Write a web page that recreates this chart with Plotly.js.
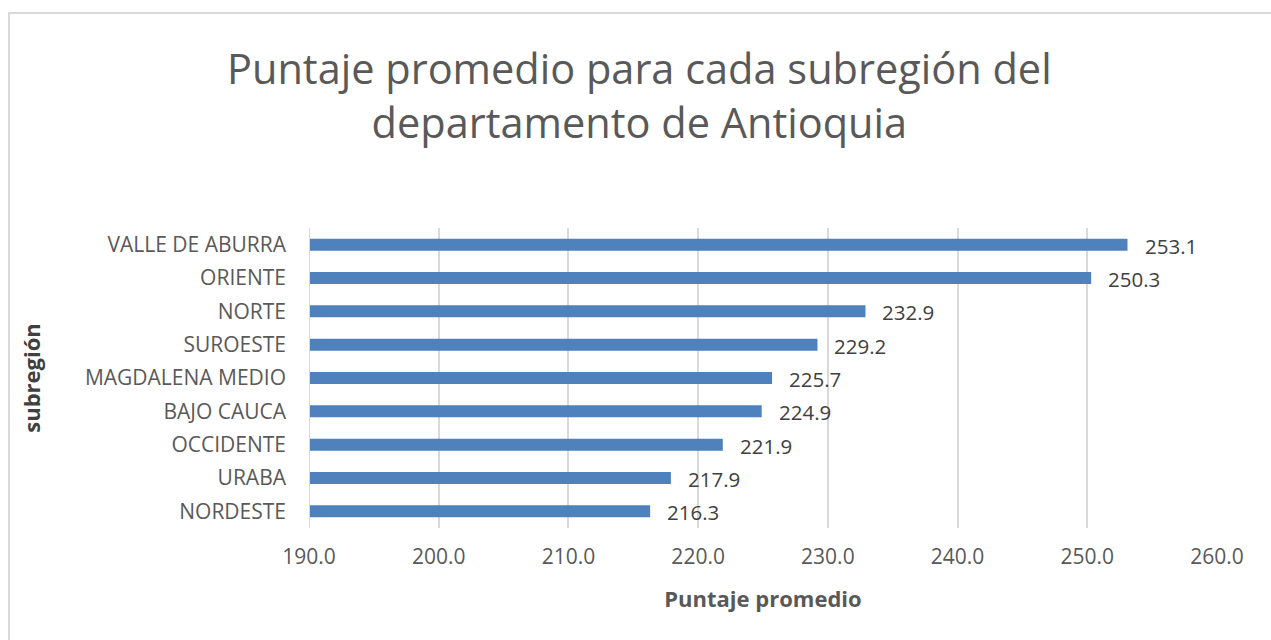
<!DOCTYPE html>
<html>
<head>
<meta charset="utf-8">
<script src="https://cdn.plot.ly/plotly-3.0.1.min.js"></script>
<style>
  html, body { margin: 0; padding: 0; background: #ffffff; overflow: hidden; }
  #frame { position: absolute; left: 8px; top: 12px; width: 1300px; height: 700px; border: 2px solid #d9d9d9; box-sizing: border-box; }
  #chart { position: absolute; left: 0; top: 0; width: 1271px; height: 640px; }
</style>
</head>
<body>
<div id="frame"></div>
<div id="chart"></div>
<script>
const categories = ["VALLE DE ABURRA", "ORIENTE", "NORTE", "SUROESTE", "MAGDALENA MEDIO", "BAJO CAUCA", "OCCIDENTE", "URABA", "NORDESTE"];
const values = [253.1, 250.3, 232.9, 229.2, 225.7, 224.9, 221.9, 217.9, 216.3];
const xTicks = [190, 200, 210, 220, 230, 240, 250, 260];

const FONT = "Open Sans, Noto Sans, sans-serif";

const trace = {
  type: "bar",
  orientation: "h",
  x: values,
  y: categories,
  marker: { color: "#4F81BD" },
  width: 0.36,
  hoverinfo: "x+y"
};

const annotations = values.map((v, i) => ({
  x: v, y: categories[i], xref: "x", yref: "y",
  text: v.toFixed(1), showarrow: false,
  xanchor: "left", yanchor: "middle", xshift: 15, yshift: -1,
  font: { family: FONT, size: 20.5, color: "#404040" }
}));

const layout = {
  width: 1271, height: 640,
  paper_bgcolor: "rgba(0,0,0,0)",
  plot_bgcolor: "rgba(0,0,0,0)",
  margin: { l: 309, r: 54, t: 228, b: 112, pad: 0 },
  showlegend: false,
  bargap: 0.64,
  title: {
    text: "Puntaje promedio para cada subregión del<br>departamento de Antioquia",
    font: { family: FONT, size: 41.5, color: "#595959" },
    x: 0.503, xanchor: "center", y: 0.868, yanchor: "top"
  },
  xaxis: {
    range: [190, 260],
    tickvals: xTicks,
    ticktext: xTicks.map(t => t.toFixed(1)),
    showgrid: true, gridcolor: "#d9d9d9", gridwidth: 2,
    zeroline: false, showline: false,
    ticks: "", ticklabelstandoff: 14,
    tickfont: { family: FONT, size: 21, color: "#595959" },
    title: { text: "Puntaje promedio", standoff: 22,
      font: { family: FONT, size: 22, color: "#595959", weight: "bold" } },
    fixedrange: true
  },
  yaxis: {
    type: "category",
    categoryorder: "array",
    categoryarray: categories.slice().reverse(),
    range: [-0.5, 8.5],
    showgrid: false, zeroline: false,
    showline: false,
    ticks: "", ticklabelstandoff: 22,
    tickfont: { family: FONT, size: 21, color: "#595959" },
    title: { text: "subregión", standoff: 38,
      font: { family: FONT, size: 22, color: "#404040", weight: "bold" } },
    fixedrange: true
  },
  shapes: [{
    type: "line", xref: "x", yref: "paper", x0: 190, x1: 190, y0: 0, y1: 1,
    line: { color: "#d9d9d9", width: 2 }
  }],
  annotations: annotations
};

Plotly.newPlot("chart", [trace], layout, { displayModeBar: false, staticPlot: true });
</script>
</body>
</html>
